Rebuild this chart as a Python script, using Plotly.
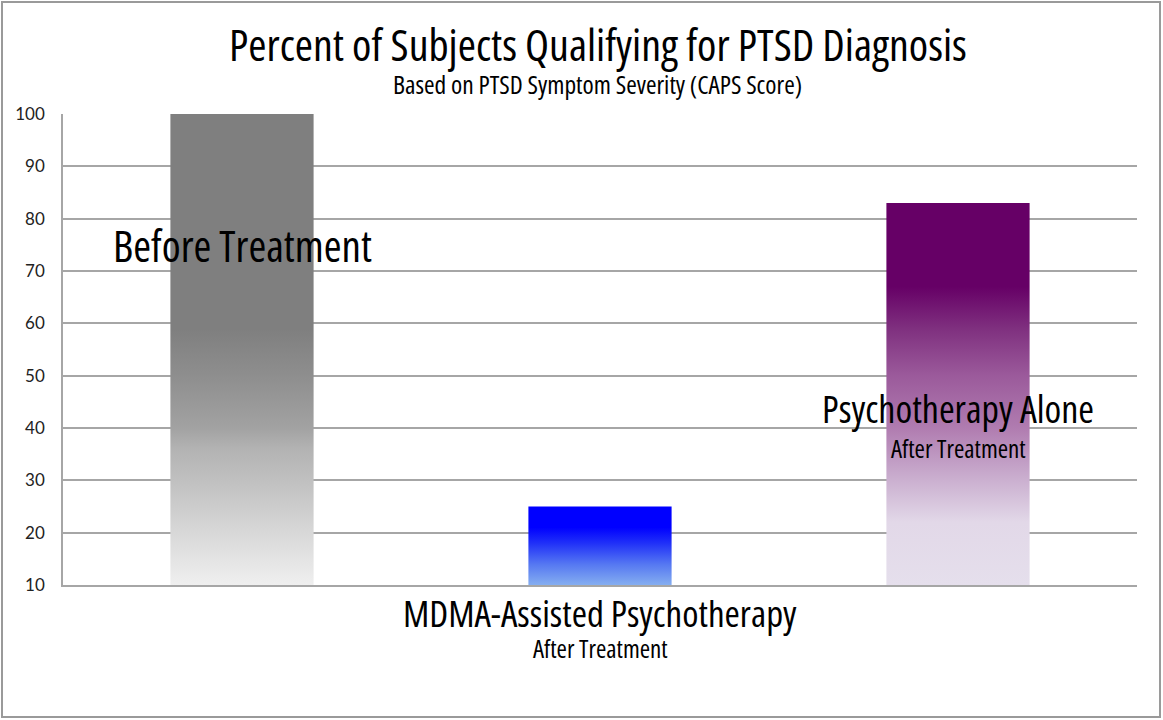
import plotly.graph_objects as go

# ---- data ----
categories = ["Before Treatment", "MDMA-Assisted Psychotherapy", "Psychotherapy Alone"]
values = [100, 25, 83]
sublabels = ["", "After Treatment", "After Treatment"]
y_ticks = [10, 20, 30, 40, 50, 60, 70, 80, 90, 100]
title_text = "Percent of Subjects Qualifying for PTSD Diagnosis"
subtitle_text = "Based on PTSD Symptom Severity (CAPS Score)"

# gradient stops: (value on y axis, colour)
grad_gray = [(10, "#efefef"), (20, "#d8d8d8"), (30, "#c0c0c0"), (36, "#b3b3b3"),
             (40, "#a2a2a2"), (50, "#8e8e8e"), (59, "#7f7f7f"), (100, "#7f7f7f")]
grad_blue = [(10, "#85aef0"), (14, "#5577f2"), (18, "#2030f8"), (21, "#0000ff"), (25, "#0000ff")]
grad_purple = [(10, "#e5dfec"), (22, "#e2d8e8"), (30, "#cbb0d0"), (40, "#b07cb0"),
               (50, "#9b5a9b"), (59, "#7f307f"), (67, "#660066"), (83, "#660066")]
gradients = [grad_gray, grad_blue, grad_purple]

BAR_W = 0.4
Y_MIN, Y_MAX = 10, 100
COND = "Open Sans, DejaVu Sans Condensed, sans-serif"


def cond(text):
    return "<span style=\"font-family:'Open Sans';font-stretch:75%%\">%s</span>" % text


fig = go.Figure()

xs = list(range(len(categories)))
fig.add_trace(go.Bar(x=xs, y=values, width=BAR_W,
                     marker=dict(color=[g[0][1] for g in gradients], opacity=0.0, line=dict(width=0)),
                     hoverinfo="skip", showlegend=False))

for i, (v, g) in enumerate(zip(values, gradients)):
    lo, hi = Y_MIN, v
    cs = [[(val - lo) / (hi - lo), col] for val, col in g]
    fig.add_trace(go.Scatter(
        x=[i - BAR_W / 2, i + BAR_W / 2, i + BAR_W / 2, i - BAR_W / 2, i - BAR_W / 2],
        y=[lo, lo, v, v, lo],
        mode="lines", line=dict(width=0), fill="toself",
        fillgradient=dict(type="vertical", colorscale=cs, start=lo, stop=hi),
        hoverinfo="skip", showlegend=False))

L, R, T, B = 63, 26, 114, 135
W, H = 1163, 720
pw, ph = W - L - R, H - T - B


def px(xp):
    return (xp - L) / pw


def py(yp):
    return (H - B - yp) / ph


def label(text, x, y, size, xref="paper", yref="paper"):
    return dict(text=cond(text), x=x, y=y, xref=xref, yref=yref, showarrow=False,
                xanchor="center", yanchor="middle",
                font=dict(family=COND, size=size, color="#000000"))


ann = [
    label(title_text, px(598), py(44), 44),
    label(subtitle_text, px(597), py(84), 25.5),
    label(categories[0], 0, 74.9, 43, "x", "y"),
    label(categories[1], 1, py(612), 37, "x", "paper"),
    label(sublabels[1], 1, py(648), 25, "x", "paper"),
    label(categories[2], 2, 43.8, 38, "x", "y"),
    label(sublabels[2], 2, 36.2, 25, "x", "y"),
]

fig.update_layout(
    width=W, height=H,
    margin=dict(l=L, r=R, t=T, b=B, pad=0),
    paper_bgcolor="white", plot_bgcolor="white",
    bargap=0.6,
    annotations=ann,
    shapes=[dict(type="rect", xref="paper", yref="paper",
                 x0=px(2), x1=px(1160), y0=py(717), y1=py(2),
                 line=dict(color="#9a9a9a", width=2), fillcolor="rgba(0,0,0,0)", layer="below")],
    xaxis=dict(range=[-0.5, 2.5], showticklabels=False, ticks="", showgrid=False,
               zeroline=False, showline=True, linecolor="#a6a6a6", linewidth=1.5),
    yaxis=dict(range=[Y_MIN, Y_MAX], tickvals=y_ticks, ticktext=[str(t) for t in y_ticks],
               showgrid=True, gridcolor="#a6a6a6", gridwidth=1.5, zeroline=False,
               showline=True, linecolor="#a6a6a6", linewidth=1.5, ticks="",
               ticklabelstandoff=13,
               tickfont=dict(family="Lato, Open Sans, sans-serif", size=17, color="#222222")),
    showlegend=False,
)

fig.write_html("out.html")
